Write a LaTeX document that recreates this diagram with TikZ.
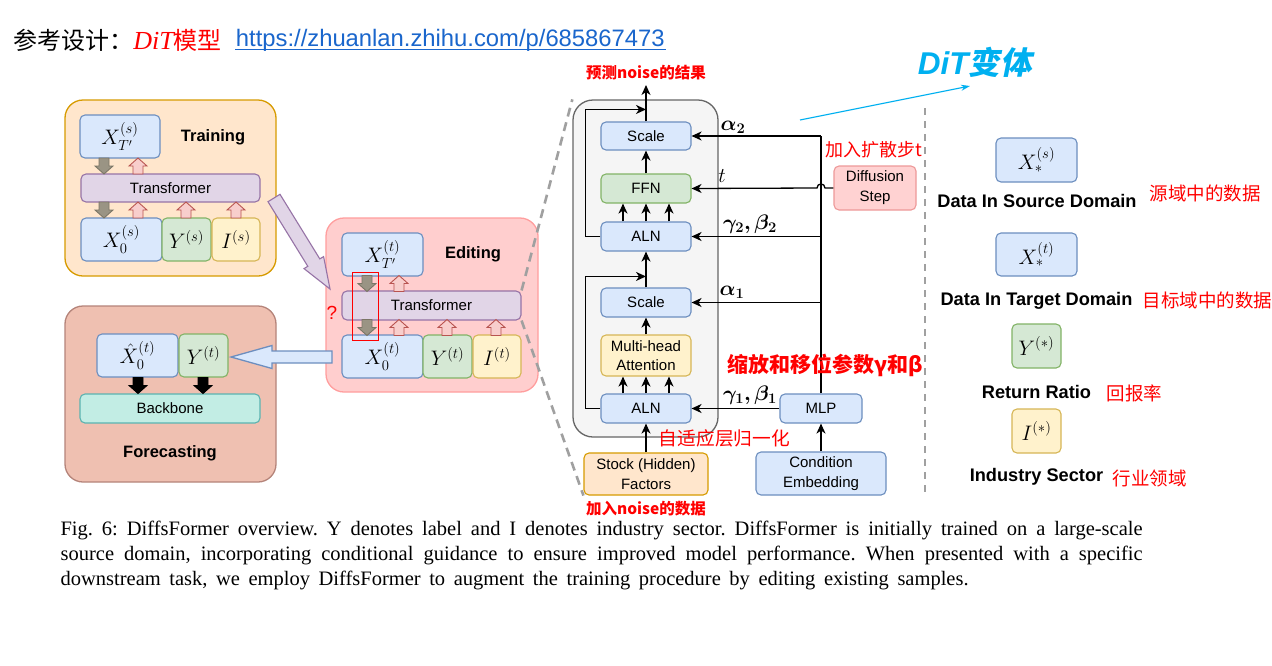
\RequirePackage{fix-cm}
\documentclass[tikz,border=0pt]{standalone}
\usepackage{amsmath}
\usepackage{bm}
\usepackage[no-math]{fontspec}
\setmainfont{Liberation Sans}
\newfontfamily\cjk{Noto Sans CJK SC}
\newfontfamily\cjkslant[FakeSlant=0.2]{Noto Sans CJK SC}
\newfontfamily\capfont{Liberation Serif}
\usetikzlibrary{arrows.meta,calc}
\definecolor{bfill}{HTML}{DAE8FC}\definecolor{bline}{HTML}{6C8EBF}
\definecolor{gnfill}{HTML}{D5E8D4}\definecolor{gnline}{HTML}{82B366}
\definecolor{yfill}{HTML}{FFF2CC}\definecolor{yline}{HTML}{D6B656}
\definecolor{ofill}{HTML}{FFE6CC}\definecolor{oline}{HTML}{D79B00}
\definecolor{pfill}{HTML}{E1D5E7}\definecolor{pline}{HTML}{9673A6}
\definecolor{rfill}{HTML}{F8CECC}\definecolor{rline}{HTML}{B85450}
\definecolor{efill}{HTML}{FFCECE}\definecolor{eline}{HTML}{FF9E9E}
\definecolor{ffill}{HTML}{EFC0B1}\definecolor{fline}{HTML}{B5847A}
\definecolor{bbfill}{HTML}{C2EDE4}\definecolor{bbline}{HTML}{5BB3B0}
\definecolor{panfill}{HTML}{F5F5F5}\definecolor{panline}{HTML}{666666}
\definecolor{dfill}{HTML}{FFD2D2}\definecolor{dline}{HTML}{EE9999}
\definecolor{grayfill}{HTML}{9A9484}\definecolor{grayline}{HTML}{7B7666}
\definecolor{dgray}{HTML}{A0A0A0}
\definecolor{ditcyan}{HTML}{00B0F0}
\definecolor{urlblue}{HTML}{1A66CC}
\newcommand\pxfont[1]{\fontsize{#1}{#1}\selectfont}
\begin{document}
\begin{tikzpicture}[x=1pt, y=-1pt, every node/.style={font=\pxfont{15}}, line width=1.2pt,
  box/.style={draw, rounded corners=5pt, line width=1.1pt, inner sep=0pt, align=center},
  wh/.style 2 args={minimum width=#1, minimum height=#2},
  bluebox/.style={box, fill=bfill, draw=bline},
  greenbox/.style={box, fill=gnfill, draw=gnline},
  yellowbox/.style={box, fill=yfill, draw=yline},
  orangebox/.style={box, fill=ofill, draw=oline},
  purplebox/.style={box, fill=pfill, draw=pline},
  grp/.style={draw, rounded corners=18pt, line width=1.3pt, inner sep=0pt},
  ttl/.style={font=\pxfont{16.5}\bfseries},
  mth/.style={font=\pxfont{21}},
  note/.style={text=red, font=\pxfont{18}\cjk},
  leg/.style={font=\pxfont{18.2}\bfseries},
  capline/.style={anchor=base west, inner sep=0pt, font=\pxfont{20.5}\capfont\frenchspacing},
  arr/.style={-{Stealth[length=10pt, width=9pt, inset=3pt]}, line width=1.3pt},
  dashln/.style={draw=dgray, line width=2.6pt, dash pattern=on 9pt off 6pt},
  gblk/.style={fill=grayfill, draw=grayline, line width=0.9pt},
  rblk/.style={fill=rfill, draw=rline, line width=0.9pt},
  kblk/.style={fill=black, draw=black, line width=0.9pt},
  pics/dnblk/.style={code={\path[pic actions] (-5,-8) -- (5,-8) -- (5,0) -- (9,0) -- (0,8) -- (-9,0) -- (-5,0) -- cycle;}},
  pics/upblk/.style={code={\path[pic actions] (-5,8) -- (5,8) -- (5,0) -- (9,0) -- (0,-8) -- (-9,0) -- (-5,0) -- cycle;}}]
  \path[use as bounding box, fill=white] (0,0) rectangle (1272,665);
  % header line
  \node[anchor=west, font=\pxfont{24}] (hdr) at (10,40) {{\cjk 参考设计：}\hspace{-7pt}\textcolor{red}{{\capfont\itshape\pxfont{26} DiT}{\cjk 模型}}};
  \node[anchor=west, font=\pxfont{23.8}, text=urlblue] (url) at (232,40) {https://zhuanlan.zhihu.com/p/685867473};
  \draw[urlblue, line width=1.2pt] ($(url.base west)+(3,3)$) -- ($(url.base east)+(-3,3)$);
  % training
  \node[grp, fill=ofill, draw=oline, wh={211}{176}] (train) at (170.5,188) {};
  \node[bluebox, wh={80}{43}, mth] (txs) at (120,136.5) {$X_{T'}^{(s)}$};
  \node[ttl] (trainlbl) at (213,137) {Training};
  \node[purplebox, wh={179}{28}] (ttr) at (170.5,188) {Transformer};
  \node[bluebox, wh={81}{43}, mth] (tx0) at (121.5,239.5) {$X_0^{(s)}$};
  \node[greenbox, wh={49}{43}, mth] (tys) at (186.5,239.5) {$Y^{(s)}$};
  \node[yellowbox, wh={48}{43}, mth] (tis) at (236,239.5) {$I^{(s)}$};
  \foreach \y in {166,210} \pic[gblk] at (104,\y) {dnblk};
  \foreach \x/\y in {138/166,138/210,186/210,236/210} \pic[rblk] at (\x,\y) {upblk};
  % editing
  \node[grp, fill=efill, draw=eline, wh={212}{174}] (edit) at (432,305) {};
  \node[bluebox, wh={81}{43}, mth] (exs) at (382.5,254.5) {$X_{T'}^{(t)}$};
  \node[ttl] (editlbl) at (473,254) {Editing};
  \node[purplebox, wh={179}{29}] (etr) at (431.5,305.5) {Transformer};
  \node[bluebox, wh={81}{43}, mth] (ex0) at (382.5,356.5) {$X_0^{(t)}$};
  \node[greenbox, wh={49}{43}, mth] (eyt) at (447.5,356.5) {$Y^{(t)}$};
  \node[yellowbox, wh={48}{43}, mth] (eit) at (497,356.5) {$I^{(t)}$};
  \foreach \y in {283.5,327.5} \pic[gblk] at (367,\y) {dnblk};
  \foreach \x/\y in {399/283.5,399/327.5,447/327.5,496/327.5} \pic[rblk] at (\x,\y) {upblk};
  \node[draw=red, line width=1pt, wh={26}{68}, inner sep=0pt] (hl) at (365,306) {};
  \node[text=red, font=\pxfont{19}] (qmark) at (332,313) {?};
  % forecasting
  \node[grp, fill=ffill, draw=fline, wh={211}{176}] (fore) at (170.5,394) {};
  \node[bluebox, wh={81}{43}, mth] (fx) at (137.5,355.5) {$\hat{X}_0^{(t)}$};
  \node[greenbox, wh={49}{43}, mth] (fy) at (203.5,355.5) {$Y^{(t)}$};
  \node[box, fill=bbfill, draw=bbline, wh={180}{29}] (bb) at (170,408.5) {Backbone};
  \foreach \x in {138,203} \pic[kblk] at (\x,385.5) {dnblk};
  \node[ttl] (forelbl) at (170,453) {Forecasting};
  % big block arrows
  \draw[fill=pfill, draw=pline, line width=1.1pt] (280,194.3) -- (319.8,258.9) -- (323.6,256.6) -- (330,289) -- (304,268.6) -- (307.8,266.3) -- (268,201.7) -- cycle;
  \draw[fill=bfill, draw=bline, line width=1.3pt] (332,351) -- (272,351) -- (272,345.5) -- (231,357) -- (272,368.5) -- (272,363) -- (332,363) -- cycle;
  % DiT block
  \node[grp, rounded corners=20pt, fill=panfill, draw=panline, wh={145}{337}] (panel) at (645.5,268.5) {};
  \node[bluebox, wh={90}{28}] (scaleb) at (646,136) {Scale};
  \node[greenbox, wh={90}{29}] (ffn) at (646,188.5) {FFN};
  \node[bluebox, wh={90}{29}] (alnb) at (646,236.5) {ALN};
  \node[bluebox, wh={90}{29}] (scalea) at (646,302.5) {Scale};
  \node[yellowbox, wh={90}{41}, font=\fontsize{15}{19}\selectfont] (mha) at (646,355.5) {Multi-head\\Attention};
  \node[bluebox, wh={90}{29}] (alna) at (646,408.5) {ALN};
  \node[orangebox, wh={124}{42}, font=\fontsize{15}{20}\selectfont] (stock) at (646,474) {Stock (Hidden)\\Factors};
  \node[bluebox, wh={130}{43}, font=\fontsize{15}{20}\selectfont] (cond) at (821,473.5) {Condition\\Embedding};
  \node[bluebox, wh={82}{29}] (mlp) at (821,408.5) {MLP};
  \node[box, fill=dfill, draw=dline, wh={82}{44}, font=\fontsize{15}{20}\selectfont] (diff) at (875,188) {Diffusion\\Step};
  \draw[dashln] (etr.north east) -- (panel.north west);
  \draw[dashln] (etr.south east) -- (stock.south west);
  \coordinate (outtip) at (646,85);
  \draw[arr] (stock.north) -- (alna.south);
  \foreach \dx in {-23,0,23} {
    \draw[arr] ($(alna.north)+(\dx,0)$) -- ($(mha.south)+(\dx,0)$);
    \draw[arr] ($(alnb.north)+(\dx,0)$) -- ($(ffn.south)+(\dx,0)$);
  }
  \draw[arr] (mha.north) -- (scalea.south);
  \draw[arr] (scalea.north) -- (alnb.south);
  \draw[arr] (ffn.north) -- (scaleb.south);
  \draw[arr] (scaleb.north) -- (outtip);
  \draw[arr] (alna.west) -- ++(-15,0) |- ($(scalea.north)+(0,-11)$);
  \draw[arr] (alnb.west) -- ++(-15,0) |- ($(scaleb.north)+(0,-12)$);
  \draw (mlp.north) -- (mlp.north |- scaleb.east);
  \draw[arr] (mlp.north |- scaleb.east) -- (scaleb.east);
  \draw[arr] (mlp.north |- alnb.east) -- (alnb.east);
  \draw[arr] (mlp.north |- scalea.east) -- (scalea.east);
  \draw[arr] (mlp.west) -- (alna.east);
  \draw[arr] (cond.north) -- (mlp.south);
  \draw[arr] (diff.west) -- ($(mlp.north |- diff.west)+(4,0)$) to[out=90, in=90, looseness=1.7] ($(mlp.north |- diff.west)+(-4,0)$) -- (ffn.east);
  \node[font=\pxfont{21}] (a2) at (733,127) {$\bm{\alpha_2}$};
  \node[font=\pxfont{21}] (tl) at (722,176) {$t$};
  \node[font=\pxfont{21}] (gb2) at (750,224) {$\bm{\gamma_2,\beta_2}$};
  \node[font=\pxfont{21}] (a1) at (732,292) {$\bm{\alpha_1}$};
  \node[font=\pxfont{21}] (gb1) at (750,395) {$\bm{\gamma_1,\beta_1}$};
  % red notes
  \node[note, font=\pxfont{15.5}\cjk\bfseries] (outlbl) at (646,73) {预测noise的结果};
  \node[note, anchor=west] (difflbl) at (822,150) {加入扩散步t};
  \node[note, anchor=west, font=\pxfont{21}\cjk\bfseries] (scalelbl) at (724,365) {缩放和移位参数γ和β};
  \node[note, anchor=west, font=\pxfont{18.7}\cjk] (alnlbl) at (655,438) {自适应层归一化};
  \node[note, font=\pxfont{15.5}\cjk\bfseries] (noiselbl) at (646,509) {加入noise的数据};
  % DiT variant title
  \coordinate (dtail) at (800,120);
  \coordinate (dtip) at (970,86);
  \draw[ditcyan, line width=1.1pt, -{Stealth[length=9pt, width=6pt]}] (dtail) -- (dtip);
  \node[anchor=west, text=ditcyan, font=\pxfont{31.5}\bfseries\itshape] (ditlbl) at (914,62) {DiT{\cjkslant 变体}};
  \coordinate (sepa) at (925,108);
  \coordinate (sepb) at (925,496);
  \draw[dashln, dash pattern=on 7pt off 6pt] (sepa) -- (sepb);
  % legend
  \node[bluebox, wh={81}{44}, mth] (lxs) at (1036.5,160) {$X_*^{(s)}$};
  \node[leg] (lxslbl) at (1037,201) {Data In Source Domain};
  \node[note, anchor=west, font=\pxfont{18.5}\cjk] (lxscn) at (1146,193) {源域中的数据};
  \node[bluebox, wh={81}{43}, mth] (lxt) at (1036.5,254.5) {$X_*^{(t)}$};
  \node[leg] (lxtlbl) at (1036.5,301) {Data In Target Domain};
  \node[note, anchor=west, font=\pxfont{18.5}\cjk] (lxtcn) at (1139,300) {目标域中的数据};
  \node[greenbox, wh={49}{44}, mth] (ly) at (1036.5,346) {$Y^{(*)}$};
  \node[leg] (lylbl) at (1036.5,392) {Return Ratio};
  \node[note, anchor=west, font=\pxfont{18.5}\cjk] (lycn) at (1103,393) {回报率};
  \node[yellowbox, wh={49}{44}, mth] (li) at (1036.5,431) {$I^{(*)}$};
  \node[leg] (lilbl) at (1036.5,477) {Industry Sector};
  \node[note, anchor=west, font=\pxfont{18.5}\cjk] (licn) at (1109,478) {行业领域};
  % caption
  \node[capline] (cap1) at (60,535) {\makebox[1082pt][s]{Fig. 6: DiffsFormer overview. Y denotes label and I denotes industry sector. DiffsFormer is initially trained on a large-scale}};
  \node[capline] (cap2) at (60,560) {\makebox[1082pt][s]{source domain, incorporating conditional guidance to ensure improved model performance. When presented with a specific}};
  \node[capline] (cap3) at (60,585) {\makebox[908pt][s]{downstream task, we employ DiffsFormer to augment the training procedure by editing existing samples.}};
\end{tikzpicture}
\end{document}
